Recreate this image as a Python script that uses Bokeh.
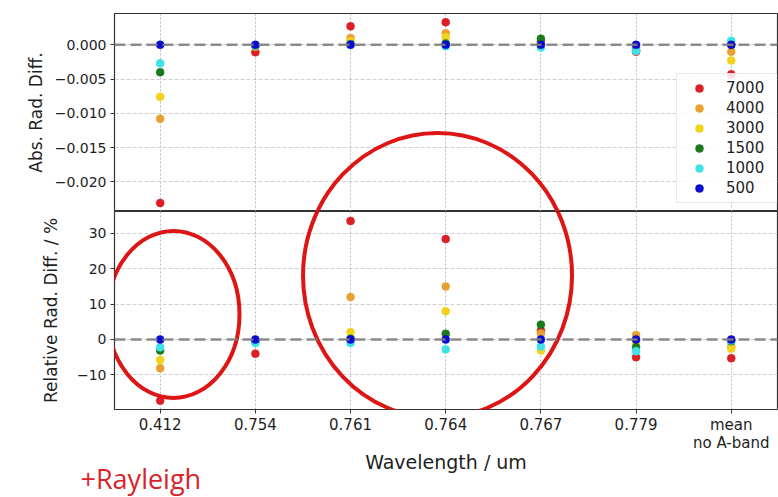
from bokeh.plotting import figure
from bokeh.layouts import column
from bokeh.models import (Range1d, FixedTicker, CustomJSTickFormatter, Span, Legend,
                          LegendItem, Title)
from bokeh.embed import file_html
from bokeh.resources import INLINE

# ---------------- data ----------------
wavelength_labels = ["0.412", "0.754", "0.761", "0.764", "0.767", "0.779", "mean\nno A-band"]
series_names = ["7000", "4000", "3000", "1500", "1000", "500"]
series_colors = ["#dc1f26", "#e8a131", "#f2d21c", "#1c7a1c", "#3fe3e6", "#0a0ad0"]

abs_7000 = [-0.0231, -0.0011, 0.0027, 0.0033, 0.0005, -0.0010, -0.0043]
abs_4000 = [-0.0108, -0.0003, 0.0010, 0.0017, 0.0001, -0.0004, -0.0010]
abs_3000 = [-0.0076, -0.0002, 0.0005, 0.0011, -0.0002, -0.0003, -0.0023]
abs_1500 = [-0.0040, -0.0001, 0.0001, 0.0002, 0.0009, -0.0008, 0.0000]
abs_1000 = [-0.0027, -0.0001, 0.0000, -0.0002, -0.0004, -0.0009, 0.0006]
abs_500 = [0.0, 0.0, 0.0, 0.0, 0.0, 0.0, 0.0]

rel_7000 = [-17.3, -4.0, 33.5, 28.4, 2.5, -5.0, -5.3]
rel_4000 = [-8.1, -0.6, 12.0, 15.0, 1.7, 1.3, -2.0]
rel_3000 = [-5.8, -0.5, 2.1, 8.0, -3.1, -1.0, -2.6]
rel_1500 = [-3.1, -0.3, 0.2, 1.6, 4.2, -2.2, -0.5]
rel_1000 = [-2.2, -1.0, -1.0, -2.8, -2.0, -3.3, -0.3]
rel_500 = [0.0, 0.0, 0.0, 0.0, 0.0, 0.0, 0.0]

abs_series = [abs_7000, abs_4000, abs_3000, abs_1500, abs_1000, abs_500]
rel_series = [rel_7000, rel_4000, rel_3000, rel_1500, rel_1000, rel_500]

abs_ticks = [-0.020, -0.015, -0.010, -0.005, 0.0]
rel_ticks = [-10, 0, 10, 20, 30]

# annotation ellipses (centre in wavelength index / relative %, size in pixels)
ring_x = [0.14, 2.914]
ring_y = [7.1, 18.1]
ring_w = [132, 269]
ring_h = [167, 285]

# ---------------- layout constants ----------------
W = 778
LEFT = 114
RIGHT = 1
TOP = 13
FRAME_H = 198
BOTTOM = 88
X_START, X_END = -0.48, 6.486
ABS_START, ABS_END = -0.02434, 0.00457
REL_START, REL_END = -19.8, 36.2

FONT = "DejaVu Sans"
TXT = "#1e1e1e"
RING = "#dd1515"

xs = list(range(len(wavelength_labels)))
x_range = Range1d(X_START, X_END)
minus_fmt_abs = CustomJSTickFormatter(code="return (tick < -1e-12 ? '\\u2212' : '') + Math.abs(tick).toFixed(3);")
minus_fmt_rel = CustomJSTickFormatter(code="return (tick < 0 ? '\\u2212' : '') + Math.abs(tick).toFixed(0);")


def style(p, ticks, fmt, label):
    p.outline_line_color = "#333333"
    p.outline_line_width = 1.2
    p.yaxis.ticker = FixedTicker(ticks=ticks)
    p.yaxis.formatter = fmt
    p.yaxis.axis_label = label
    p.yaxis.axis_label_text_font = FONT
    p.yaxis.axis_label_text_font_style = "normal"
    p.yaxis.axis_label_text_font_size = "17px"
    p.yaxis.axis_label_text_color = TXT
    p.yaxis.major_label_text_font = FONT
    p.yaxis.major_label_text_font_size = "14px"
    p.yaxis.major_label_text_color = TXT
    p.yaxis.major_tick_out = 4
    p.yaxis.major_tick_in = 0
    p.yaxis.minor_tick_out = 0
    p.yaxis.minor_tick_in = 0
    p.yaxis.major_label_standoff = 4
    p.yaxis.axis_line_color = None
    p.yaxis.major_tick_line_color = "#333333"
    p.xaxis.ticker = FixedTicker(ticks=xs)
    p.ygrid.ticker = FixedTicker(ticks=ticks)
    p.ygrid.grid_line_color = "#c4c4c4"
    p.ygrid.grid_line_dash = "4 2"
    p.ygrid.grid_line_width = 0.8
    p.xgrid.grid_line_color = "#a8a8a8"
    p.xgrid.grid_line_dash = "2 2"
    p.xgrid.grid_line_width = 0.8
    p.background_fill_color = "white"
    p.border_fill_color = "white"


# ---------------- top panel ----------------
top = figure(width=W, height=TOP + FRAME_H, x_range=x_range,
             y_range=Range1d(ABS_START, ABS_END),
             output_backend="svg", toolbar_location=None,
             min_border_left=LEFT, min_border_right=RIGHT,
             min_border_top=TOP, min_border_bottom=0)
style(top, abs_ticks, minus_fmt_abs, "Abs. Rad. Diff.")
top.yaxis.axis_label_standoff = 6
top.xaxis.visible = False

top_renderers = []
for name, col, vals in zip(series_names, series_colors, abs_series):
    r = top.scatter(x=xs, y=vals, size=8, marker="circle", fill_color=col,
                    line_color=col, line_width=0.5)
    top_renderers.append((name, r))

top.add_layout(Span(location=0, dimension="width", line_color="#808080",
                    line_width=2.5, line_dash="11 5", line_alpha=0.9))


def rel_to_abs(v):
    px_below = (REL_END - v) / (REL_END - REL_START) * FRAME_H
    return ABS_START - px_below * (ABS_END - ABS_START) / FRAME_H


top.ellipse(x=ring_x, y=[rel_to_abs(v) for v in ring_y], width=ring_w, height=ring_h,
            width_units="screen", height_units="screen",
            fill_color=None, line_color=RING, line_width=4)

legend = Legend(items=[LegendItem(label=n, renderers=[r]) for n, r in top_renderers],
                location=(562, 8), padding=4, spacing=0, margin=0,
                glyph_width=36, glyph_height=20, label_height=20, label_width=48,
                label_standoff=9, label_text_font=FONT, label_text_font_size="15px",
                label_text_color=TXT, border_line_color="#d4d4d4", border_line_width=1,
                background_fill_color="white", background_fill_alpha=0.85)
top.add_layout(legend)

# ---------------- bottom panel ----------------
bot = figure(width=W, height=FRAME_H + BOTTOM, x_range=x_range,
             y_range=Range1d(REL_START, REL_END),
             output_backend="svg", toolbar_location=None,
             min_border_left=LEFT, min_border_right=RIGHT,
             min_border_top=0, min_border_bottom=BOTTOM)
style(bot, rel_ticks, minus_fmt_rel, "Relative Rad. Diff. / %")
bot.yaxis.axis_label_standoff = 13

for name, col, vals in zip(series_names, series_colors, rel_series):
    bot.scatter(x=xs, y=vals, size=8, marker="circle", fill_color=col,
                line_color=col, line_width=0.5)

bot.add_layout(Span(location=0, dimension="width", line_color="#808080",
                    line_width=2.5, line_dash="11 5", line_alpha=0.9))

bot.ellipse(x=ring_x, y=ring_y, width=ring_w, height=ring_h,
            width_units="screen", height_units="screen",
            fill_color=None, line_color=RING, line_width=4)

bot.xaxis.major_label_overrides = {i: lab for i, lab in enumerate(wavelength_labels)}
bot.xaxis.major_label_text_font = FONT
bot.xaxis.major_label_text_font_size = "15px"
bot.xaxis.major_label_text_line_height = 1.0
bot.xaxis.major_label_text_color = TXT
bot.xaxis.major_tick_out = 4
bot.xaxis.major_tick_in = 0
bot.xaxis.minor_tick_out = 0
bot.xaxis.major_label_standoff = 2
bot.xaxis.axis_line_color = None
bot.xaxis.major_tick_line_color = "#333333"
bot.xaxis.axis_label = "Wavelength / um"
bot.xaxis.axis_label_text_font = FONT
bot.xaxis.axis_label_text_font_style = "normal"
bot.xaxis.axis_label_text_font_size = "19px"
bot.xaxis.axis_label_text_color = TXT
bot.xaxis.axis_label_standoff = -4

note = Title(text="+Rayleigh", align="left", offset=-34, standoff=-42,
             text_font="Open Sans", text_font_size="27px", text_font_style="normal",
             text_color="#d8232a")
bot.add_layout(note, "below")

layout = column(top, bot, spacing=0)
open("out.html", "w").write(file_html(layout, INLINE))
